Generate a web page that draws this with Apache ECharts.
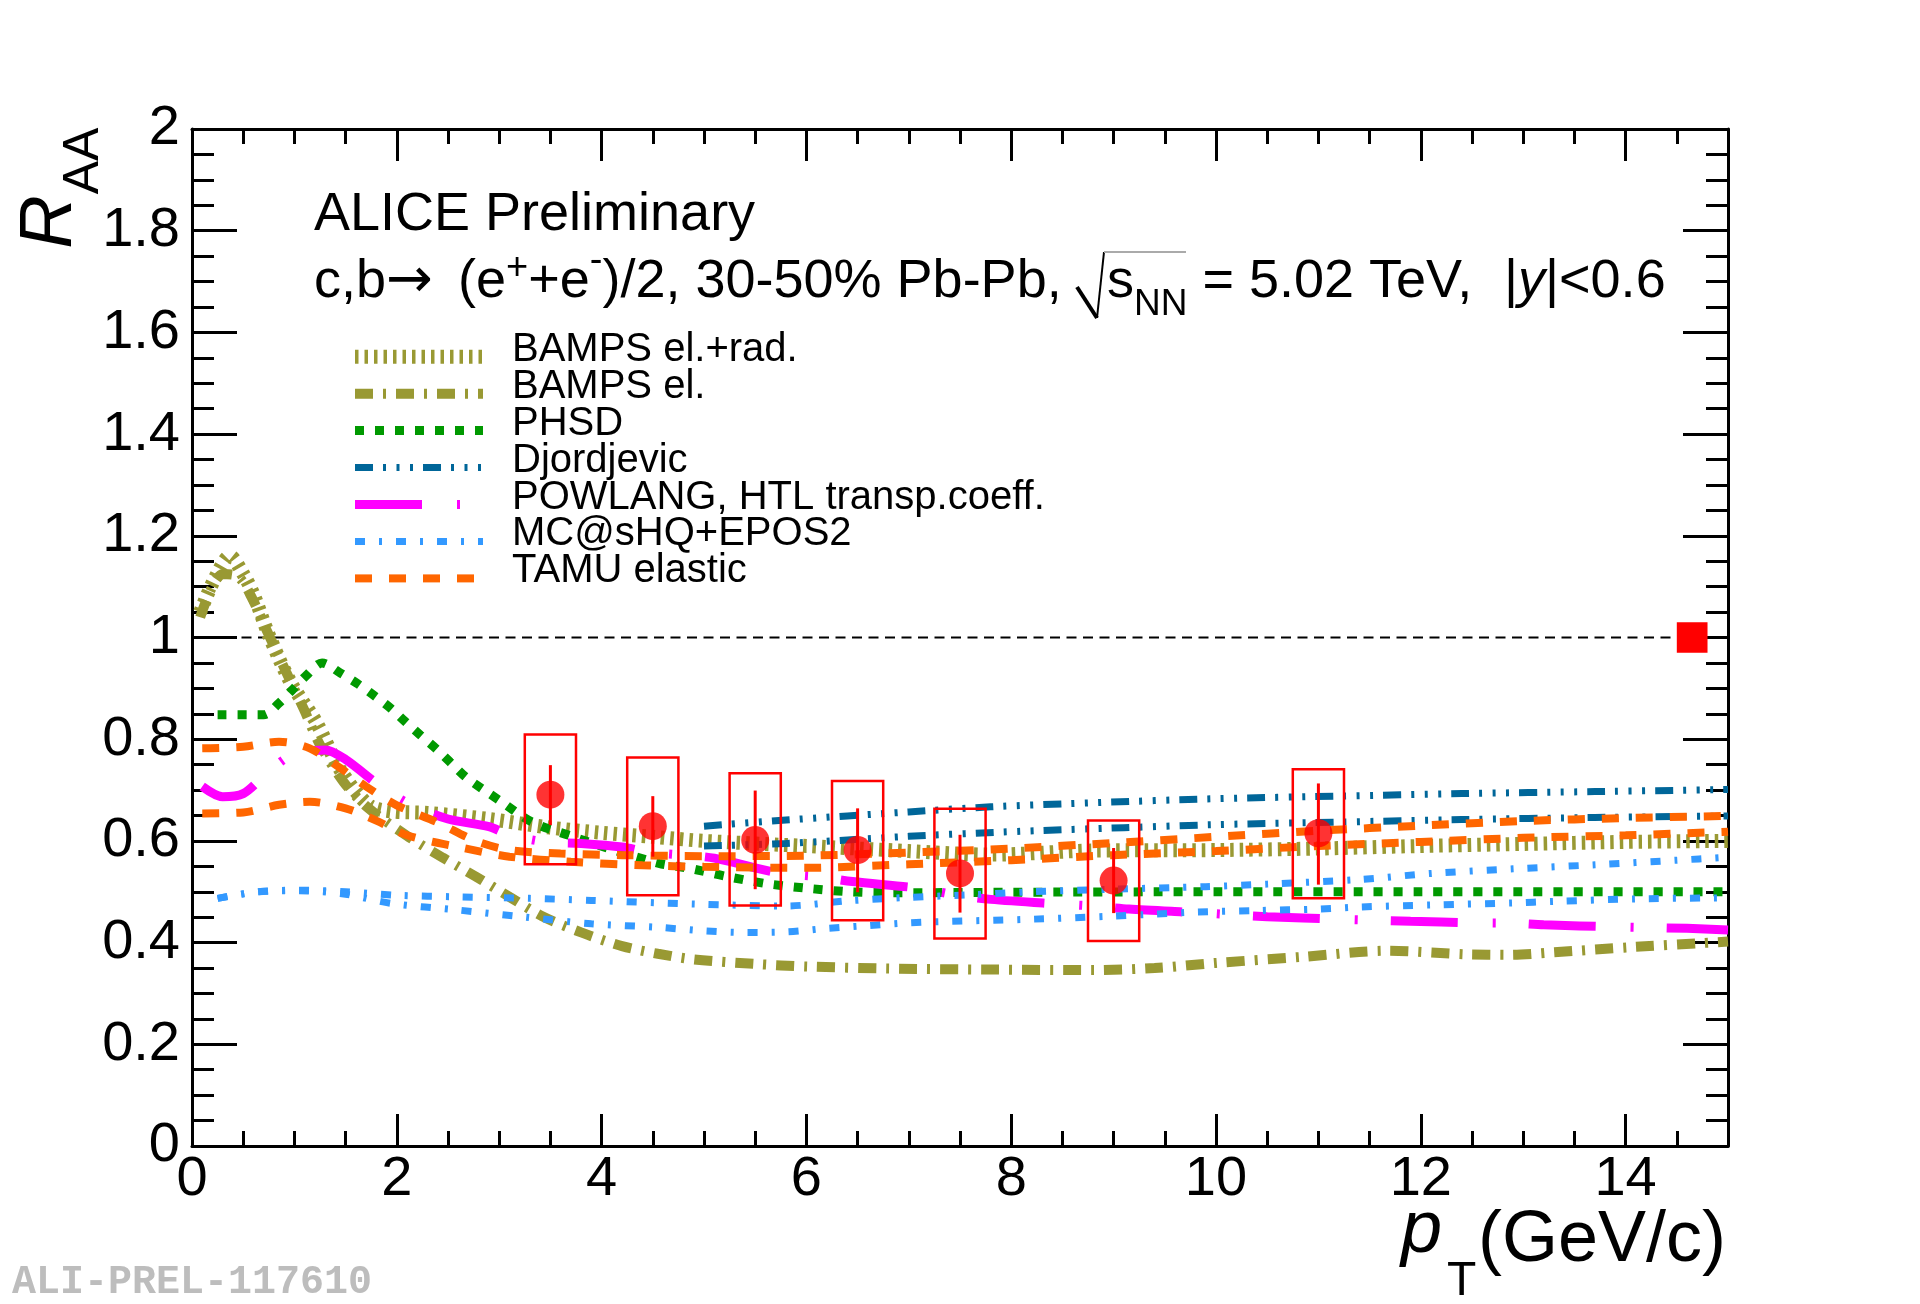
<!DOCTYPE html>
<html>
<head>
<meta charset="utf-8">
<title>ALICE Preliminary - HFE RAA 30-50% Pb-Pb</title>
<script src="https://cdn.jsdelivr.net/npm/echarts@6.0.0/dist/echarts.min.js"></script>
<style>
  html, body { margin: 0; padding: 0; background: #fff; }
  #chart { width: 1920px; height: 1304px; }
</style>
</head>
<body>
<div id="chart"></div>
<script>
// measured data points (pT, RAA) with stat. and syst. limits
const dataPt = [3.5, 4.5, 5.5, 6.5, 7.5, 9, 11];
const dataR = [0.691, 0.629, 0.602, 0.582, 0.536, 0.522, 0.615];
const statLo = [0.631, 0.569, 0.505, 0.499, 0.459, 0.458, 0.514];
const statHi = [0.749, 0.688, 0.699, 0.664, 0.612, 0.586, 0.713];
const sysLo = [0.554, 0.493, 0.473, 0.444, 0.408, 0.403, 0.487];
const sysHi = [0.809, 0.764, 0.733, 0.718, 0.663, 0.640, 0.741];

// normalisation uncertainty box at RAA = 1
const normPt = [14.65];
const normLo = [0.97];
const normHi = [1.03];

// unity reference line
const unityPt = [0, 15];
const unityR = 1;

// model curves, [pT, RAA]
const bampsElRad = [[0.08,1.05],[0.22,1.115],[0.37,1.16],[0.5,1.125],[0.6,1.085],[0.75,1.005],[0.96,0.913],[1.22,0.831],[1.45,0.739],[1.73,0.67],[1.95,0.658],[2.3,0.655],[2.9,0.643],[3.5,0.626],[4.0,0.616],[4.5,0.608],[5.0,0.6],[6.0,0.59],[7.0,0.58],[7.8,0.573],[8.8,0.581],[10.0,0.582],[11.0,0.585],[12.0,0.59],[13.0,0.594],[14.0,0.598],[15.0,0.6]];
const bampsEl = [[0.08,1.04],[0.3,1.125],[0.45,1.12],[0.58,1.08],[0.75,1.005],[0.92,0.932],[1.09,0.86],[1.25,0.789],[1.48,0.716],[1.72,0.665],[2.1,0.61],[2.45,0.567],[2.77,0.53],[3.1,0.49],[3.42,0.452],[3.8,0.42],[4.2,0.393],[4.55,0.378],[4.9,0.367],[5.5,0.358],[6.0,0.353],[6.8,0.349],[7.8,0.347],[8.8,0.346],[9.4,0.35],[10.0,0.36],[10.85,0.372],[11.67,0.384],[12.45,0.377],[12.87,0.376],[13.3,0.381],[14.05,0.391],[15.0,0.402]];
const phsd = [[0.25,0.848],[0.7,0.848],[0.85,0.871],[0.98,0.897],[1.12,0.926],[1.27,0.95],[1.45,0.93],[1.61,0.91],[1.77,0.887],[1.94,0.861],[2.08,0.835],[2.23,0.808],[2.38,0.782],[2.52,0.755],[2.67,0.726],[2.83,0.703],[3.0,0.68],[3.32,0.637],[3.68,0.611],[4.07,0.585],[4.56,0.556],[4.86,0.546],[5.22,0.53],[5.61,0.516],[6.0,0.507],[6.42,0.5],[6.82,0.498],[8.0,0.499],[10.0,0.5],[12.0,0.5],[15.0,0.5]];
const djordjevicUp = [[5.0,0.629],[5.8,0.641],[7.0,0.657],[7.8,0.667],[8.8,0.675],[10.0,0.683],[11.2,0.688],[12.4,0.693],[13.7,0.697],[15.0,0.701]];
const djordjevicLo = [[5.0,0.59],[5.8,0.595],[7.0,0.609],[8.1,0.619],[9.1,0.626],[10.0,0.632],[11.2,0.637],[12.4,0.642],[13.7,0.646],[15.0,0.649]];
const powlang = [[0.1,0.707],[0.3,0.687],[0.5,0.693],[0.7,0.727],[0.95,0.766],[1.3,0.779],[1.5,0.76],[1.85,0.706],[2.15,0.67],[2.5,0.643],[2.9,0.628],[3.1,0.612],[3.45,0.598],[3.8,0.595],[4.2,0.588],[4.45,0.578],[4.8,0.572],[5.1,0.566],[5.75,0.536],[6.1,0.53],[6.45,0.52],[7.1,0.507],[7.45,0.494],[7.8,0.485],[8.45,0.476],[8.8,0.472],[9.15,0.466],[9.8,0.459],[10.5,0.451],[11.2,0.446],[11.9,0.442],[12.5,0.439],[12.9,0.438],[13.2,0.435],[13.9,0.431],[14.6,0.428],[15.0,0.425]];
const mcshqUp = [[0.25,0.487],[0.65,0.5],[1.05,0.503],[1.5,0.5],[2.0,0.493],[2.6,0.49],[3.3,0.487],[3.9,0.483],[4.9,0.476],[5.8,0.472],[6.4,0.482],[7.0,0.489],[7.6,0.494],[8.2,0.5],[9.0,0.505],[9.9,0.51],[10.5,0.515],[11.4,0.524],[12.1,0.536],[12.9,0.545],[13.7,0.553],[14.5,0.562],[15.0,0.568]];
const mcshqLo = [[0.25,0.487],[0.65,0.5],[1.05,0.502],[1.5,0.495],[1.95,0.477],[2.6,0.464],[3.26,0.45],[3.9,0.437],[4.56,0.43],[5.0,0.423],[5.4,0.42],[5.8,0.421],[6.2,0.428],[6.57,0.433],[7.0,0.439],[7.42,0.442],[7.83,0.444],[8.2,0.446],[9.0,0.452],[9.4,0.456],[9.8,0.46],[10.4,0.463],[11.0,0.466],[11.4,0.47],[12.1,0.474],[12.9,0.478],[13.3,0.481],[14.1,0.486],[15.0,0.488]];
const tamuUp = [[0.1,0.782],[0.5,0.785],[0.85,0.795],[1.15,0.782],[1.45,0.743],[1.7,0.707],[2.0,0.67],[2.4,0.636],[2.77,0.6],[3.1,0.582],[3.6,0.575],[4.2,0.572],[5.0,0.57],[6.0,0.571],[7.0,0.577],[8.0,0.585],[9.0,0.596],[10.0,0.608],[11.0,0.62],[12.0,0.63],[13.0,0.639],[14.0,0.645],[15.0,0.649]];
const tamuLo = [[0.1,0.654],[0.5,0.656],[0.85,0.671],[1.15,0.677],[1.5,0.664],[1.8,0.64],[2.1,0.611],[2.6,0.588],[3.1,0.569],[3.7,0.559],[4.4,0.552],[5.0,0.549],[6.0,0.547],[7.0,0.554],[8.0,0.562],[9.0,0.572],[10.0,0.58],[11.0,0.59],[12.0,0.598],[13.0,0.606],[14.0,0.611],[15.0,0.618]];

const FONT = 'Liberation Sans';
const RED = '#ff0000';
const SYS_HALF = 0.25;   // half width of the syst. boxes in pT
const NORM_HALF = 0.15;

// line styles roughly as ROOT drew them
const models = [
  { name: 'BAMPS el.+rad.', curves: [bampsElRad], color: '#999933', width: 14, dash: [3.5, 6] },
  { name: 'BAMPS el.', curves: [bampsEl], color: '#999933', width: 10, dash: [18, 10, 3, 10] },
  { name: 'PHSD', curves: [phsd], color: '#009900', width: 9, dash: [9, 11] },
  { name: 'Djordjevic', curves: [djordjevicUp, djordjevicLo], color: '#006699', width: 7, dash: [18, 10, 3, 10.5, 3, 10.5, 3, 10] },
  { name: 'POWLANG, HTL transp.coeff.', curves: [powlang], color: '#ff00ff', width: 9, dash: [67, 35, 3, 33], offset: 9 },
  { name: 'MC@sHQ+EPOS2', curves: [mcshqUp, mcshqLo], color: '#3399ff', width: 7, dash: [10, 14, 3, 14] },
  { name: 'TAMU elastic', curves: [tamuUp, tamuLo], color: '#ff6600', width: 8, dash: [17, 17] }
];

const chart = echarts.init(document.getElementById('chart'));

const series = [];

series.push({
  name: 'unity', type: 'line', z: 1,
  data: unityPt.map(x => [x, unityR]),
  symbol: 'none', silent: true,
  lineStyle: { color: '#000', width: 2, type: [10, 6.5] }
});

models.forEach(m => {
  m.curves.forEach(c => {
    series.push({
      name: m.name, type: 'line', data: c,
      symbol: 'none', showSymbol: false, smooth: 0.3, silent: true,
      lineStyle: { color: m.color, width: m.width, type: m.dash, cap: 'butt', dashOffset: m.offset || 0 }
    });
  });
});

// syst. boxes
series.push({
  name: 'syst', type: 'custom', z: 8,
  data: dataPt.map((x, i) => [x, sysLo[i], sysHi[i]]),
  encode: { x: 0, y: [1, 2] },
  renderItem: function (params, api) {
    const x = api.value(0);
    const p1 = api.coord([x - SYS_HALF, api.value(2)]);
    const p2 = api.coord([x + SYS_HALF, api.value(1)]);
    return {
      type: 'rect',
      shape: { x: p1[0], y: p1[1], width: p2[0] - p1[0], height: p2[1] - p1[1] },
      style: { fill: 'none', stroke: RED, lineWidth: 2.5 }
    };
  }
});

// stat. error bars
series.push({
  name: 'stat', type: 'custom', z: 9,
  data: dataPt.map((x, i) => [x, statLo[i], statHi[i]]),
  encode: { x: 0, y: [1, 2] },
  renderItem: function (params, api) {
    const lo = api.coord([api.value(0), api.value(1)]);
    const hi = api.coord([api.value(0), api.value(2)]);
    return {
      type: 'line',
      shape: { x1: lo[0], y1: lo[1], x2: hi[0], y2: hi[1] },
      style: { stroke: RED, lineWidth: 3 }
    };
  }
});

series.push({
  name: 'data', type: 'scatter', z: 10,
  data: dataPt.map((x, i) => [x, dataR[i]]),
  symbol: 'circle', symbolSize: 28,
  itemStyle: { color: RED }
});

// normalisation box
series.push({
  name: 'norm', type: 'custom', z: 10,
  data: normPt.map((x, i) => [x, normLo[i], normHi[i]]),
  encode: { x: 0, y: [1, 2] },
  renderItem: function (params, api) {
    const x = api.value(0);
    const p1 = api.coord([x - NORM_HALF, api.value(2)]);
    const p2 = api.coord([x + NORM_HALF, api.value(1)]);
    return {
      type: 'rect',
      shape: { x: p1[0], y: p1[1], width: p2[0] - p1[0], height: p2[1] - p1[1] },
      style: { fill: RED }
    };
  }
});

const frameLine = { show: true, onZero: false, lineStyle: { color: '#000', width: 3 } };
const noLine = { show: false, onZero: false };
const tickStyle = { color: '#000', width: 3 };

function xAx(pos, interval, len, withLine, withLabels) {
  return {
    type: 'value', position: pos, min: 0, max: 15, interval: interval,
    axisLine: withLine ? frameLine : noLine,
    axisTick: { show: true, inside: true, length: len, lineStyle: tickStyle },
    splitLine: { show: false },
    axisLabel: withLabels ? {
      show: true, fontSize: 56, fontFamily: FONT, color: '#000', margin: 6,
      formatter: v => (v === 15 ? '' : String(v))
    } : { show: false }
  };
}

function yAx(pos, withLabels) {
  return {
    type: 'value', position: pos, min: 0, max: 2, interval: 0.2,
    axisLine: frameLine,
    axisTick: { show: true, inside: true, length: 45, lineStyle: tickStyle },
    minorTick: { show: true, splitNumber: 4, length: 22, lineStyle: tickStyle },
    splitLine: { show: false },
    minorSplitLine: { show: false },
    axisLabel: withLabels ? { show: true, fontSize: 56, fontFamily: FONT, color: '#000', margin: 12 } : { show: false }
  };
}

// legend drawn by hand so the long ROOT-style samples keep their dash patterns
const legendTop = 356.7;
const legendStep = 36.95;
const legendGraphic = [];
models.forEach((m, i) => {
  const y = legendTop + i * legendStep;
  legendGraphic.push({
    type: 'line', z: 50,
    shape: { x1: 355, y1: y, x2: 483, y2: y },
    style: { stroke: m.color, lineWidth: m.width, lineDash: m.dash, lineCap: 'butt' }
  });
  legendGraphic.push({
    type: 'text', z: 50, x: 512, y: y - 7,
    style: { text: m.name, fontSize: 40, fontFamily: FONT, fill: '#000', align: 'left', verticalAlign: 'middle', textAlign: 'left', textVerticalAlign: 'middle' }
  });
});

function txt(x, y, text, size, extra) {
  return Object.assign({
    type: 'text', z: 50, x: x, y: y,
    style: Object.assign({
      text: text, fontSize: size, fontFamily: FONT, fill: '#000',
      align: 'left', verticalAlign: 'middle', textAlign: 'left', textVerticalAlign: 'middle'
    }, extra && extra.style)
  }, extra && extra.el);
}

const richBase = { fontFamily: FONT, fill: '#000', lineHeight: 60 };

const graphic = legendGraphic.concat([
  txt(314, 215, 'ALICE Preliminary', 54),
  txt(314, 282, 'c,b{ar|\u2192}', 54, {
    style: {
      lineHeight: 60,
      rich: { ar: Object.assign({ fontSize: 56 }, richBase, { fontFamily: 'DejaVu Sans' }) }
    }
  }),
  txt(458, 282, '(e{sp|+}+e{sm|-})/2, 30-50% Pb-Pb,', 54, {
    style: {
      lineHeight: 60,
      rich: {
        sp: Object.assign({ fontSize: 38, padding: [0, 0, 26, 0] }, richBase),
        sm: Object.assign({ fontSize: 38, padding: [0, 0, 40, 0] }, richBase)
      }
    }
  }),
  txt(1107, 282, 's{sub|NN} = 5.02 TeV,', 54, {
    style: {
      lineHeight: 60,
      rich: { sub: Object.assign({ fontSize: 37, padding: [46, 0, 0, 0] }, richBase) }
    }
  }),
  txt(1504, 282, '|{it|y}|<0.6', 54, {
    style: {
      lineHeight: 60,
      rich: { it: Object.assign({ fontSize: 54, fontStyle: 'italic' }, richBase) }
    }
  }),
  // square-root sign
  { type: 'polyline', z: 50, shape: { points: [[1077, 287], [1097, 318]] }, style: { stroke: '#000', lineWidth: 4, fill: null } },
  { type: 'polyline', z: 50, shape: { points: [[1097, 318], [1104, 252]] }, style: { stroke: '#000', lineWidth: 2, fill: null } },
  { type: 'polyline', z: 50, shape: { points: [[1104, 252], [1186, 252]] }, style: { stroke: '#aaa', lineWidth: 2, fill: null } },
  // axis titles
  txt(50, 222, 'R', 74, { style: { fontStyle: 'italic', align: 'center', textAlign: 'center' }, el: { rotation: Math.PI / 2 } }),
  txt(84, 161, 'AA', 50, { style: { align: 'center', textAlign: 'center' }, el: { rotation: Math.PI / 2 } }),
  txt(1401, 1231, 'p', 74, { style: { fontStyle: 'italic' } }),
  txt(1447, 1282, 'T', 48),
  txt(1726, 1241, '(GeV/c)', 72, { style: { align: 'right', textAlign: 'right' } }),
  txt(12, 1283, 'ALI-PREL-117610', 40, { style: { fontFamily: 'Liberation Mono', fontWeight: 'bold', fill: '#bdbdbd' } })
]);

chart.setOption({
  animation: false,
  backgroundColor: '#fff',
  grid: { left: 192, top: 129, width: 1536, height: 1017, outerBoundsMode: 'none', containLabel: false },
  xAxis: [
    xAx('bottom', 2, 32, true, true),
    xAx('bottom', 0.5, 15, false, false),
    xAx('top', 2, 32, true, false),
    xAx('top', 0.5, 15, false, false)
  ],
  yAxis: [yAx('left', true), yAx('right', false)],
  series: series,
  graphic: graphic
});
</script>
</body>
</html>
